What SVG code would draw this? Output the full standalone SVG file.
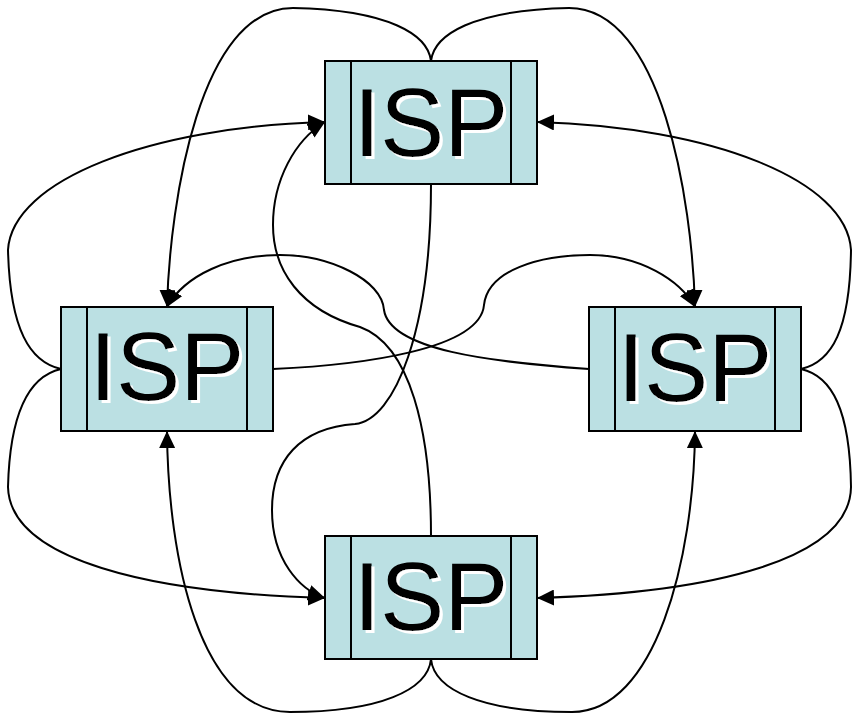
<svg xmlns="http://www.w3.org/2000/svg" width="853" height="716" viewBox="0 0 853 716">
<defs>
<marker id="ah" markerUnits="userSpaceOnUse" markerWidth="18" markerHeight="16" viewBox="0 0 18 16" refX="17" refY="8" orient="auto">
<path d="M0,0 L17,8 L0,16 z" fill="#000"/>
</marker>
<filter id="ws" x="-10%" y="-10%" width="130%" height="130%">
<feFlood flood-color="#ffffff" result="f"/>
<feComposite in="f" in2="SourceAlpha" operator="in" result="w"/>
<feOffset in="w" dx="3" dy="3" result="o"/>
<feMerge><feMergeNode in="o"/><feMergeNode in="SourceGraphic"/></feMerge>
</filter>
</defs>
<style>
.box{fill:#BBE0E3;stroke:#000;stroke-width:2}
.div{stroke:#000;stroke-width:2}
.lbl{font-family:"Liberation Sans",Arial,sans-serif;font-size:96px;text-anchor:middle;fill:#000;filter:url(#ws)}
.edge{fill:none;stroke:#000;stroke-width:2;marker-end:url(#ah)}
</style>
<rect width="853" height="716" fill="#fff"/>
<g id="connectors">
<path class="edge" d="M431,61 C428,35 390,10 293,8 C200,8 170,200 167,307"/>
<path class="edge" d="M431,61 C434,35 472,10 569,8 C662,8 692,200 695,307"/>
<path class="edge" d="M61,369 C30,362 10,330 8,250 C12,180 150,127 325,122"/>
<path class="edge" d="M801,369 C832,362 850,330 851,250 C847,180 712,127 537,122"/>
<path class="edge" d="M61,369 C30,376 10,410 8,487 C10,560 150,593 325,598"/>
<path class="edge" d="M801,369 C832,376 850,410 851,487 C850,560 712,593 537,598"/>
<path class="edge" d="M431,659 C428,690 380,712 290,712 C200,712 168,560 167,431"/>
<path class="edge" d="M431,659 C434,690 482,712 572,712 C655,712 694,560 695,431"/>
<path class="edge" d="M431,184 C431,330 395,420 355,424 C300,428 272,460 272,510 C272,560 300,590 325,598"/>
<path class="edge" d="M431,536 C431,430 410,345 360,327 C300,310 273,270 273,225 C273,180 295,140 325,122"/>
<path class="edge" d="M589,369 C490,362 390,350 384,310 C382,280 330,255 280,255 C230,255 185,275 167,307"/>
<path class="edge" d="M273,369 C360,365 480,350 484,305 C488,270 540,255 590,255 C640,255 680,280 695,307"/>
</g>
<g id="isp-top">
<rect class="box" x="325" y="61" width="212" height="123"/>
<line class="div" x1="351" y1="61" x2="351" y2="184"/>
<line class="div" x1="511" y1="61" x2="511" y2="184"/>
<text class="lbl" x="431" y="156">ISP</text>
</g>
<g id="isp-left">
<rect class="box" x="61" y="307" width="212" height="124"/>
<line class="div" x1="87" y1="307" x2="87" y2="431"/>
<line class="div" x1="247" y1="307" x2="247" y2="431"/>
<text class="lbl" x="167" y="400">ISP</text>
</g>
<g id="isp-right">
<rect class="box" x="589" y="307" width="212" height="124"/>
<line class="div" x1="615" y1="307" x2="615" y2="431"/>
<line class="div" x1="775" y1="307" x2="775" y2="431"/>
<text class="lbl" x="695" y="401">ISP</text>
</g>
<g id="isp-bottom">
<rect class="box" x="325" y="536" width="212" height="123"/>
<line class="div" x1="351" y1="536" x2="351" y2="659"/>
<line class="div" x1="511" y1="536" x2="511" y2="659"/>
<text class="lbl" x="431" y="630">ISP</text>
</g>
</svg>
